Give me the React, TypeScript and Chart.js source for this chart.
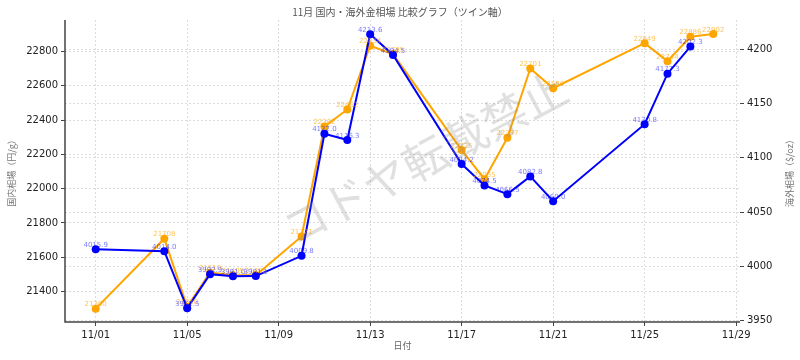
import React, { useEffect, useRef } from 'react';
import { Chart, registerables } from 'chart.js';

Chart.register(...registerables);

// ---- data ----
const domesticDays = [1, 4, 5, 6, 7, 8, 10, 11, 12, 13, 14, 17, 18, 19, 20, 21, 25, 26, 27, 28];
const domesticPrices = [21300, 21708, 21310, 21510, 21495, 21495, 21721, 22362, 22462, 22834, 22785, 22225, 22055, 22297, 22701, 22586, 22849, 22744, 22886, 22902];
const overseasDays = [1, 4, 5, 6, 7, 8, 10, 11, 12, 13, 14, 17, 18, 19, 20, 21, 25, 26, 27];
const overseasPrices = [4015.9, 4014.0, 3961.5, 3992.9, 3991.0, 3991.1, 4009.8, 4122.0, 4116.3, 4213.6, 4194.5, 4094.2, 4074.5, 4066.5, 4082.8, 4060.0, 4130.8, 4177.3, 4202.3];
const xTickDays = [1, 5, 9, 13, 17, 21, 25, 29];
const leftTicks = [21400, 21600, 21800, 22000, 22200, 22400, 22600, 22800];
const rightTicks = [3950, 4000, 4050, 4100, 4150, 4200];

const TITLE = '11月 国内・海外金相場 比較グラフ（ツイン軸）';
const X_TITLE = '日付';
const LEFT_TITLE = '国内相場（円/g）';
const RIGHT_TITLE = '海外相場（$/oz）';
const WATERMARK = 'コドヤ転載禁止';

const FONT = '"DejaVu Sans", "Noto Sans CJK JP", sans-serif';
const CJK = '"Noto Sans CJK JP", "DejaVu Sans", sans-serif';

const overlayPlugin = {
  id: 'overlay',
  afterDatasetsDraw(chart: any) {
    const ctx = chart.ctx;
    const area = chart.chartArea;
    ctx.save();
    ctx.font = '7px ' + FONT;
    ctx.textAlign = 'center';
    ctx.textBaseline = 'alphabetic';
    const orangeMeta = chart.getDatasetMeta(1);
    ctx.fillStyle = 'rgba(255,165,0,0.65)';
    orangeMeta.data.forEach((pt: any, i: number) => {
      ctx.fillText(String(domesticPrices[i]), pt.x, pt.y - 2.5);
    });
    const blueMeta = chart.getDatasetMeta(0);
    ctx.fillStyle = 'rgba(0,0,255,0.55)';
    blueMeta.data.forEach((pt: any, i: number) => {
      ctx.fillText(overseasPrices[i].toFixed(1), pt.x, pt.y - 2.5);
    });
    // spines
    ctx.strokeStyle = '#444';
    ctx.lineWidth = 1.5;
    ctx.beginPath();
    ctx.moveTo(area.left, area.top);
    ctx.lineTo(area.left, area.bottom);
    ctx.lineTo(area.right, area.bottom);
    ctx.stroke();
    // right axis title (reads bottom-to-top)
    ctx.save();
    ctx.translate(790, (area.top + area.bottom) / 2);
    ctx.rotate(-Math.PI / 2);
    ctx.font = '9px ' + CJK;
    ctx.fillStyle = '#777';
    ctx.textAlign = 'center';
    ctx.textBaseline = 'middle';
    ctx.fillText(RIGHT_TITLE, 0, 0);
    ctx.restore();
    ctx.restore();
  },
  afterDraw(chart: any) {
    const ctx = chart.ctx;
    ctx.save();
    ctx.translate(425, 158);
    ctx.rotate(-28 * Math.PI / 180);
    ctx.font = '45px ' + CJK;
    ctx.textAlign = 'center';
    ctx.textBaseline = 'middle';
    ctx.fillStyle = 'rgba(140,140,140,0.27)';
    ctx.fillText(WATERMARK, 0, 0);
    ctx.restore();
  },
};

export default function App() {
  const ref = useRef<HTMLCanvasElement | null>(null);
  useEffect(() => {
    if (!ref.current) return;
    const gridCommon = {
      color: '#d4d4d4',
      lineWidth: 0.8,
      drawTicks: true,
      tickLength: 4,
      tickColor: '#444',
      tickWidth: 1,
    };
    const chart = new Chart(ref.current, {
      type: 'line',
      data: {
        datasets: [
          {
            label: '海外相場',
            data: overseasDays.map((d, i) => ({ x: d, y: overseasPrices[i] })),
            yAxisID: 'y1',
            borderColor: '#0000ff',
            backgroundColor: '#0000ff',
            borderWidth: 2,
            pointRadius: 4,
            pointHoverRadius: 4,
            pointBorderWidth: 0,
            tension: 0,
            order: 0,
          },
          {
            label: '国内相場',
            data: domesticDays.map((d, i) => ({ x: d, y: domesticPrices[i] })),
            yAxisID: 'y',
            borderColor: '#ffa500',
            backgroundColor: '#ffa500',
            borderWidth: 2,
            pointRadius: 4,
            pointHoverRadius: 4,
            pointBorderWidth: 0,
            tension: 0,
            order: 1,
          },
        ],
      },
      options: {
        animation: false,
        responsive: false,
        devicePixelRatio: 1,
        events: [],
        layout: { padding: 0 },
        plugins: {
          legend: { display: false },
          tooltip: { enabled: false },
          title: {
            display: true,
            text: TITLE,
            color: '#555',
            font: { size: 10, family: CJK, weight: 'normal' },
            padding: { top: 6, bottom: 2 },
          },
        },
        scales: {
          x: {
            type: 'linear',
            min: -0.342,
            max: 29.17,
            afterBuildTicks: (s: any) => {
              s.ticks = xTickDays.map((v) => ({ value: v }));
            },
            afterFit: (s: any) => {
              s.height = 38;
            },
            ticks: {
              autoSkip: false,
              maxRotation: 0,
              minRotation: 0,
              padding: 3,
              color: '#222',
              font: { size: 10, family: FONT },
              callback: (v: any) => '11/' + String(v).padStart(2, '0'),
            },
            grid: gridCommon,
            border: { display: false, dash: [2, 2] },
            title: {
              display: true,
              text: X_TITLE,
              color: '#666',
              font: { size: 9, family: CJK },
              padding: { top: 0, bottom: 8.6 },
            },
          },
          y: {
            type: 'linear',
            position: 'left',
            min: 21222,
            max: 22984,
            afterBuildTicks: (s: any) => {
              s.ticks = leftTicks.map((v) => ({ value: v }));
            },
            afterFit: (s: any) => {
              s.width = 65;
            },
            ticks: {
              padding: 3,
              color: '#222',
              font: { size: 10, family: FONT },
              callback: (v: any) => String(v),
            },
            grid: gridCommon,
            border: { display: false, dash: [2, 2] },
            title: {
              display: true,
              text: LEFT_TITLE,
              color: '#777',
              font: { size: 9, family: CJK },
              padding: { top: 6.6, bottom: 0 },
            },
          },
          y1: {
            type: 'linear',
            position: 'right',
            min: 3948.9,
            max: 4226.7,
            afterBuildTicks: (s: any) => {
              s.ticks = rightTicks.map((v) => ({ value: v }));
            },
            afterFit: (s: any) => {
              s.width = 60;
            },
            ticks: {
              padding: 3,
              color: '#222',
              font: { size: 10, family: FONT },
              callback: (v: any) => String(v),
            },
            grid: gridCommon,
            border: { display: false, dash: [2, 2] },
            title: { display: false },
          },
        },
      } as any,
      plugins: [overlayPlugin],
    });
    return () => chart.destroy();
  }, []);

  return (
    <div style={{ position: 'fixed', left: 0, top: 0, width: 800, height: 360, background: '#fff' }}>
      <canvas ref={ref} width={800} height={360} style={{ display: 'block', width: 800, height: 360 }} />
    </div>
  );
}
